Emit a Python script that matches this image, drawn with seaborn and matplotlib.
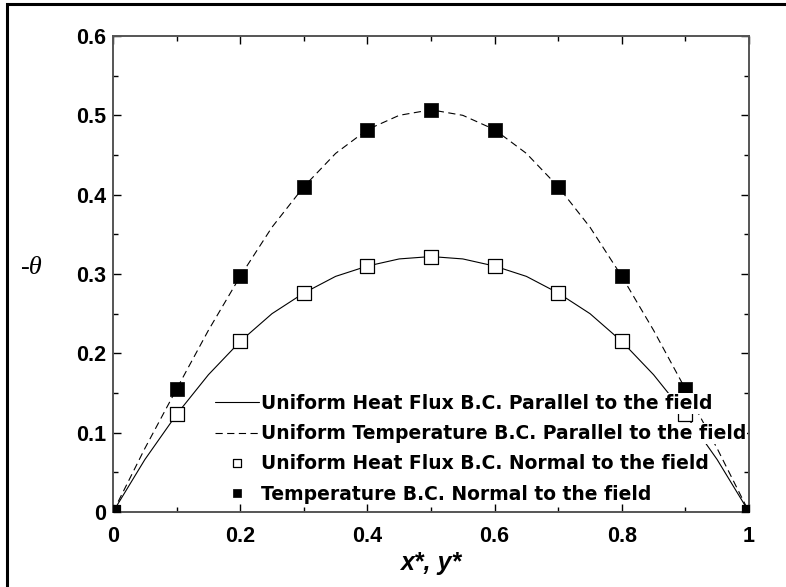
import matplotlib
matplotlib.use("Agg")
import matplotlib.pyplot as plt
from matplotlib.patches import Rectangle
from matplotlib.ticker import MultipleLocator
import seaborn as sns

# markers (x = 0 .. 1, step 0.1)
x_pts = [0.0, 0.1, 0.2, 0.3, 0.4, 0.5, 0.6, 0.7, 0.8, 0.9, 1.0]
flux_normal = [0.0, 0.123, 0.215, 0.276, 0.310, 0.322, 0.310, 0.276, 0.215, 0.123, 0.0]
temp_normal = [0.0, 0.155, 0.297, 0.410, 0.482, 0.507, 0.482, 0.410, 0.297, 0.155, 0.0]

# curves (x = 0 .. 1, step 0.05)
x_curve = [0.0, 0.05, 0.1, 0.15, 0.2, 0.25, 0.3, 0.35, 0.4, 0.45, 0.5,
           0.55, 0.6, 0.65, 0.7, 0.75, 0.8, 0.85, 0.9, 0.95, 1.0]
flux_parallel = [0.0, 0.066, 0.123, 0.173, 0.215, 0.250, 0.276, 0.297, 0.310, 0.319, 0.322,
                 0.319, 0.310, 0.297, 0.276, 0.250, 0.215, 0.173, 0.123, 0.066, 0.0]
temp_parallel = [0.0, 0.080, 0.155, 0.229, 0.297, 0.359, 0.410, 0.452, 0.482, 0.500, 0.507,
                 0.500, 0.482, 0.452, 0.410, 0.359, 0.297, 0.229, 0.155, 0.080, 0.0]

labels = ["Uniform Heat Flux B.C. Parallel to the field",
          "Uniform Temperature B.C. Parallel to the field",
          "Uniform Heat Flux B.C. Normal to the field",
          "Temperature B.C. Normal to the field"]

x_ticks = [0.0, 0.2, 0.4, 0.6, 0.8, 1.0]
x_tick_labels = ["0", "0.2", "0.4", "0.6", "0.8", "1"]
y_ticks = [0.0, 0.1, 0.2, 0.3, 0.4, 0.5, 0.6]
y_tick_labels = ["0", "0.1", "0.2", "0.3", "0.4", "0.5", "0.6"]

sns.set_style("ticks")
plt.rcParams["font.family"] = ["Liberation Sans", "DejaVu Sans"]
plt.rcParams["text.color"] = "black"
plt.rcParams["axes.labelcolor"] = "black"
plt.rcParams["xtick.color"] = "black"
plt.rcParams["ytick.color"] = "black"

fig = plt.figure(figsize=(7.86, 5.87), dpi=100)
ax = fig.add_axes([113 / 786, 75 / 587, 636 / 786, 476 / 587])

sns.lineplot(x=x_curve, y=flux_parallel, ax=ax, color="black", lw=0.8,
             label=labels[0])
sns.lineplot(x=x_curve, y=temp_parallel, ax=ax, color="black", lw=0.8,
             linestyle=(0, (6.5, 4)), label=labels[1])
sns.scatterplot(x=x_pts, y=flux_normal, ax=ax, marker="s", s=90,
                facecolor="white", edgecolor="black", linewidth=0.9,
                label=labels[2], zorder=3)
sns.scatterplot(x=x_pts, y=temp_normal, ax=ax, marker="s", s=100,
                color="black", edgecolor="black", linewidth=0.5,
                label=labels[3], zorder=4)

ax.set_xlim(0, 1)
ax.set_ylim(0, 0.6)
ax.set_xticks(x_ticks)
ax.set_xticklabels(x_tick_labels)
ax.set_yticks(y_ticks)
ax.set_yticklabels(y_tick_labels)
ax.xaxis.set_minor_locator(MultipleLocator(0.1))
ax.yaxis.set_minor_locator(MultipleLocator(0.05))

ax.tick_params(which="both", direction="in", top=True, right=True,
               color="black", labelcolor="black", width=1)
ax.tick_params(which="major", length=6)
ax.tick_params(which="minor", length=3.8)
ax.tick_params(axis="x", which="major", pad=10)
ax.tick_params(axis="y", which="major", pad=5)
for lab in ax.get_xticklabels() + ax.get_yticklabels():
    lab.set_fontsize(15.5)
    lab.set_fontweight("bold")

for sp in ax.spines.values():
    sp.set_visible(True)
    sp.set_color("#555555")
    sp.set_linewidth(1.4)

ax.set_xlabel("x*, y*", fontsize=18, fontweight="bold", fontstyle="italic",
              labelpad=3, color="black")
ax.set_ylabel("-\u03b8", fontsize=19, rotation=0, fontstyle="italic", color="black",
              family=["Liberation Serif", "DejaVu Serif"])
ax.yaxis.set_label_coords(-0.129, 0.513)
ax.yaxis.label.set_verticalalignment("center")
ax.yaxis.label.set_horizontalalignment("center")

leg = ax.legend(loc="upper left", bbox_to_anchor=(0.160, 0.248), frameon=False,
                borderpad=0, borderaxespad=0, handlelength=2.35, handletextpad=0.1,
                labelspacing=0.6, markerscale=0.6, scatteryoffsets=[0.5],
                labelcolor="black",
                prop={"size": 13.5, "weight": "bold", "family": "DejaVu Sans"})
for t in leg.get_texts():
    t.set_bbox(dict(facecolor="white", edgecolor="none", pad=0.6))
leg.set_zorder(6)

# outer frame around the figure
fig.patches.append(Rectangle((7 / 786, -0.2), 1.2, (583 / 587) + 0.2, transform=fig.transFigure,
                             fill=False, edgecolor="black", linewidth=2.2))

fig.savefig("out.png", dpi=100)
